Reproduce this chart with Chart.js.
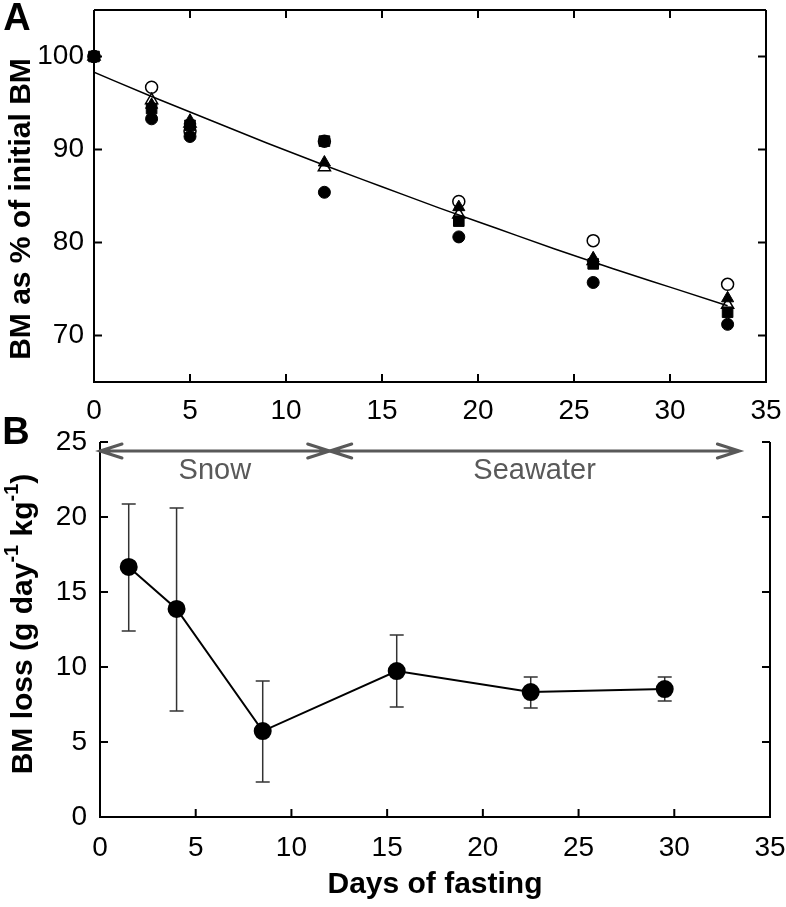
<!DOCTYPE html>
<html>
<head>
<meta charset="utf-8">
<script src="https://cdn.jsdelivr.net/npm/chart.js@4.4.1/dist/chart.umd.min.js"></script>
<style>
  body { margin: 0; background: #fff; width: 786px; height: 907px; position: relative; overflow: hidden; }
  canvas { position: absolute; left: 0; }
  #cA { top: 0; }
  #cB { top: 400px; }
</style>
</head>
<body>
<canvas id="cA" width="786" height="430"></canvas>
<canvas id="cB" width="786" height="507"></canvas>
<script>
const FONT = '"Liberation Sans", Arial, sans-serif';

// panel A : body mass as % of initial, one series per bird
const daysA = [0, 3, 5, 12, 19, 26, 33];
const filledCircle   = [100, 93.3, 91.4, 85.4, 80.6, 75.7, 71.2];
const filledTriangle = [100, 94.8, 93.1, 88.6, 83.8, 78.3, 74.0];
const filledSquare   = [100, 94.4, 92.6, 90.9, 82.3, 77.7, 72.5];
const openTriangle   = [100, 95.3, 92.8, 88.1, 83.0, 78.0, 73.3];
const openCircle     = [100, 96.7, 92.0, 90.9, 84.4, 80.2, 75.5];
// fitted curve
const fitDays   = [0, 3, 6, 9, 12, 15, 18, 21, 24, 27, 30, 33];
const fitValues = [98.3, 95.7, 93.2, 90.7, 88.3, 86.0, 83.7, 81.5, 79.3, 77.2, 75.2, 73.2];
const xTicks  = [0, 5, 10, 15, 20, 25, 30, 35];
const yTicksA = [70, 80, 90, 100];

// panel B : daily BM loss (mean with error bars)
const daysB    = [1.5, 4, 8.5, 15.5, 22.5, 29.5];
const lossB    = [16.67, 13.87, 5.73, 9.73, 8.33, 8.53];
const lossHigh = [20.87, 20.6, 9.07, 12.13, 9.33, 9.33];
const lossLow  = [12.4, 7.07, 2.33, 7.33, 7.27, 7.73];
const yTicksB  = [0, 5, 10, 15, 20, 25];
const periodNames = ['Snow', 'Seawater'];
const periodStart = [0, 12];
const periodEnd   = [12, 33.4];
const periodLevel = 24.4;

Chart.defaults.font.family = FONT;
Chart.defaults.color = '#000';

function pts(xs, ys) { return xs.map((v, i) => ({ x: v, y: ys[i] })); }

// box + inward ticks
const frame = {
  id: 'frame',
  beforeDatasetsDraw(chart, args, opts) {
    const { ctx, chartArea: a, scales: { x, y } } = chart;
    ctx.save();
    ctx.strokeStyle = '#000';
    ctx.lineWidth = 2;
    ctx.beginPath();
    if (opts.top) { ctx.moveTo(a.left, a.top); ctx.lineTo(a.right, a.top); }
    ctx.moveTo(a.left, a.top); ctx.lineTo(a.left, a.bottom);
    ctx.lineTo(a.right, a.bottom); ctx.lineTo(a.right, a.top);
    x.ticks.forEach(t => {
      const px = x.getPixelForValue(t.value);
      ctx.moveTo(px, a.bottom); ctx.lineTo(px, a.bottom - 8);
      if (opts.top) { ctx.moveTo(px, a.top); ctx.lineTo(px, a.top + 8); }
    });
    y.ticks.forEach(t => {
      const py = y.getPixelForValue(t.value);
      ctx.moveTo(a.left, py); ctx.lineTo(a.left + 8, py);
      ctx.moveTo(a.right, py); ctx.lineTo(a.right - 8, py);
    });
    ctx.stroke();
    ctx.restore();
  }
};

function yTitle(ctx, parts, cx, cy) {
  ctx.save();
  ctx.translate(cx, cy);
  ctx.rotate(-Math.PI / 2);
  ctx.textBaseline = 'middle';
  ctx.textAlign = 'left';
  let total = 0;
  parts.forEach(p => { ctx.font = p.sup ? 'bold 20px ' + FONT : 'bold 30px ' + FONT; p.w = ctx.measureText(p.t).width; total += p.w; });
  let pos = -total / 2;
  parts.forEach(p => {
    ctx.font = p.sup ? 'bold 20px ' + FONT : 'bold 30px ' + FONT;
    ctx.fillText(p.t, pos, p.sup ? -12 : 0);
    pos += p.w;
  });
  ctx.restore();
}

const labelsA = {
  id: 'labelsA',
  afterDraw(chart) {
    const ctx = chart.ctx;
    ctx.save();
    ctx.fillStyle = '#000';
    ctx.font = 'bold 38px ' + FONT;
    ctx.textAlign = 'center';
    ctx.textBaseline = 'middle';
    ctx.fillText('A', 17, 20);
    ctx.restore();
    yTitle(ctx, [{ t: 'BM as % of initial BM' }], 22, 209);
  }
};

const errorBars = {
  id: 'errorBars',
  beforeDatasetsDraw(chart) {
    const { ctx, scales: { x, y } } = chart;
    ctx.save();
    ctx.strokeStyle = '#333';
    ctx.lineWidth = 1.5;
    ctx.beginPath();
    daysB.forEach((d, i) => {
      const px = x.getPixelForValue(d);
      const top = y.getPixelForValue(lossHigh[i]);
      const bot = y.getPixelForValue(lossLow[i]);
      ctx.moveTo(px, top); ctx.lineTo(px, bot);
      ctx.moveTo(px - 7, top); ctx.lineTo(px + 7, top);
      ctx.moveTo(px - 7, bot); ctx.lineTo(px + 7, bot);
    });
    ctx.stroke();
    ctx.restore();
  }
};

const periodsB = {
  id: 'periodsB',
  afterDraw(chart) {
    const { ctx, scales: { x, y } } = chart;
    const py = y.getPixelForValue(periodLevel);
    ctx.save();
    ctx.strokeStyle = '#595959';
    ctx.fillStyle = '#595959';
    ctx.lineWidth = 3;
    ctx.lineCap = 'round';
    periodNames.forEach((name, i) => {
      const x0 = x.getPixelForValue(periodStart[i]);
      const x1 = x.getPixelForValue(periodEnd[i]);
      ctx.beginPath();
      ctx.moveTo(x0, py); ctx.lineTo(x1, py);
      ctx.moveTo(x0 + 22, py - 7); ctx.lineTo(x0, py); ctx.lineTo(x0 + 22, py + 7);
      ctx.moveTo(x1 - 22, py - 7); ctx.lineTo(x1, py); ctx.lineTo(x1 - 22, py + 7);
      ctx.stroke();
      ctx.font = '29px ' + FONT;
      ctx.textAlign = 'center';
      ctx.textBaseline = 'middle';
      ctx.fillText(name, x.getPixelForValue((periodStart[i] + periodEnd[i]) / 2), y.getPixelForValue(23.05));
    });
    ctx.fillStyle = '#000';
    ctx.font = 'bold 38px ' + FONT;
    ctx.fillText('B', 16, 34);
    ctx.restore();
    yTitle(ctx, [{ t: 'BM loss (g day' }, { t: '-1', sup: true }, { t: ' kg' }, { t: '-1', sup: true }, { t: ')' }], 24, 224);
  }
};

const tickFont = { size: 28 };

new Chart(document.getElementById('cA'), {
  type: 'scatter',
  data: {
    datasets: [
      { data: pts(fitDays, fitValues), showLine: true, pointRadius: 0, borderColor: '#000', borderWidth: 1.5, cubicInterpolationMode: 'monotone' },
      { data: pts(daysA, filledCircle), pointStyle: 'circle', pointRadius: 6, backgroundColor: '#000', borderColor: '#000', clip: false },
      { data: pts(daysA, filledTriangle), pointStyle: 'triangle', pointRadius: 7, backgroundColor: '#000', borderColor: '#000', clip: false },
      { data: pts(daysA, filledSquare), pointStyle: 'rect', pointRadius: 7.5, backgroundColor: '#000', borderColor: '#000', clip: false },
      { data: pts(daysA, openTriangle), pointStyle: 'triangle', pointRadius: 7, backgroundColor: '#fff', borderColor: '#000', borderWidth: 1.5, clip: false },
      { data: pts(daysA, openCircle), pointStyle: 'circle', pointRadius: 6, backgroundColor: '#fff', borderColor: '#000', borderWidth: 1.5, clip: false }
    ]
  },
  options: {
    responsive: false,
    animation: false,
    layout: { padding: { top: 10, right: 20, left: 0, bottom: 0 } },
    plugins: { legend: { display: false }, tooltip: { enabled: false }, frame: { top: true } },
    scales: {
      x: {
        type: 'linear', min: 0, max: 35,
        afterBuildTicks: s => { s.ticks = xTicks.map(v => ({ value: v })); },
        afterFit: s => { s.height = 48; s.paddingLeft = 0; s.paddingRight = 0; },
        ticks: { font: tickFont, padding: 12, maxRotation: 0 },
        grid: { display: false, drawTicks: false },
        border: { display: false }
      },
      y: {
        type: 'linear', min: 65, max: 105,
        afterBuildTicks: s => { s.ticks = yTicksA.map(v => ({ value: v })); },
        afterFit: s => { s.width = 94; s.paddingTop = 0; s.paddingBottom = 0; },
        ticks: { font: tickFont, padding: 10 },
        grid: { display: false, drawTicks: false },
        border: { display: false }
      }
    }
  },
  plugins: [frame, labelsA]
});

new Chart(document.getElementById('cB'), {
  type: 'scatter',
  data: {
    datasets: [
      { data: pts(daysB, lossB), showLine: true, pointStyle: 'circle', pointRadius: 8, backgroundColor: '#000', borderColor: '#000', borderWidth: 2, clip: false }
    ]
  },
  options: {
    responsive: false,
    animation: false,
    layout: { padding: { top: 42, right: 16, left: 0, bottom: 0 } },
    plugins: { legend: { display: false }, tooltip: { enabled: false }, frame: { top: false } },
    scales: {
      x: {
        type: 'linear', min: 0, max: 35,
        afterBuildTicks: s => { s.ticks = xTicks.map(v => ({ value: v })); },
        afterFit: s => { s.height = 90; s.paddingLeft = 0; s.paddingRight = 0; },
        ticks: { font: tickFont, padding: 14, maxRotation: 0 },
        grid: { display: false, drawTicks: false },
        border: { display: false },
        title: { display: true, text: 'Days of fasting', font: { size: 30, weight: 'bold' }, padding: { top: 4, bottom: 4 } }
      },
      y: {
        type: 'linear', min: 0, max: 25,
        afterBuildTicks: s => { s.ticks = yTicksB.map(v => ({ value: v })); },
        afterFit: s => { s.width = 100; s.paddingTop = 0; s.paddingBottom = 0; },
        ticks: { font: tickFont, padding: 13 },
        grid: { display: false, drawTicks: false },
        border: { display: false }
      }
    }
  },
  plugins: [frame, errorBars, periodsB]
});
</script>
</body>
</html>
